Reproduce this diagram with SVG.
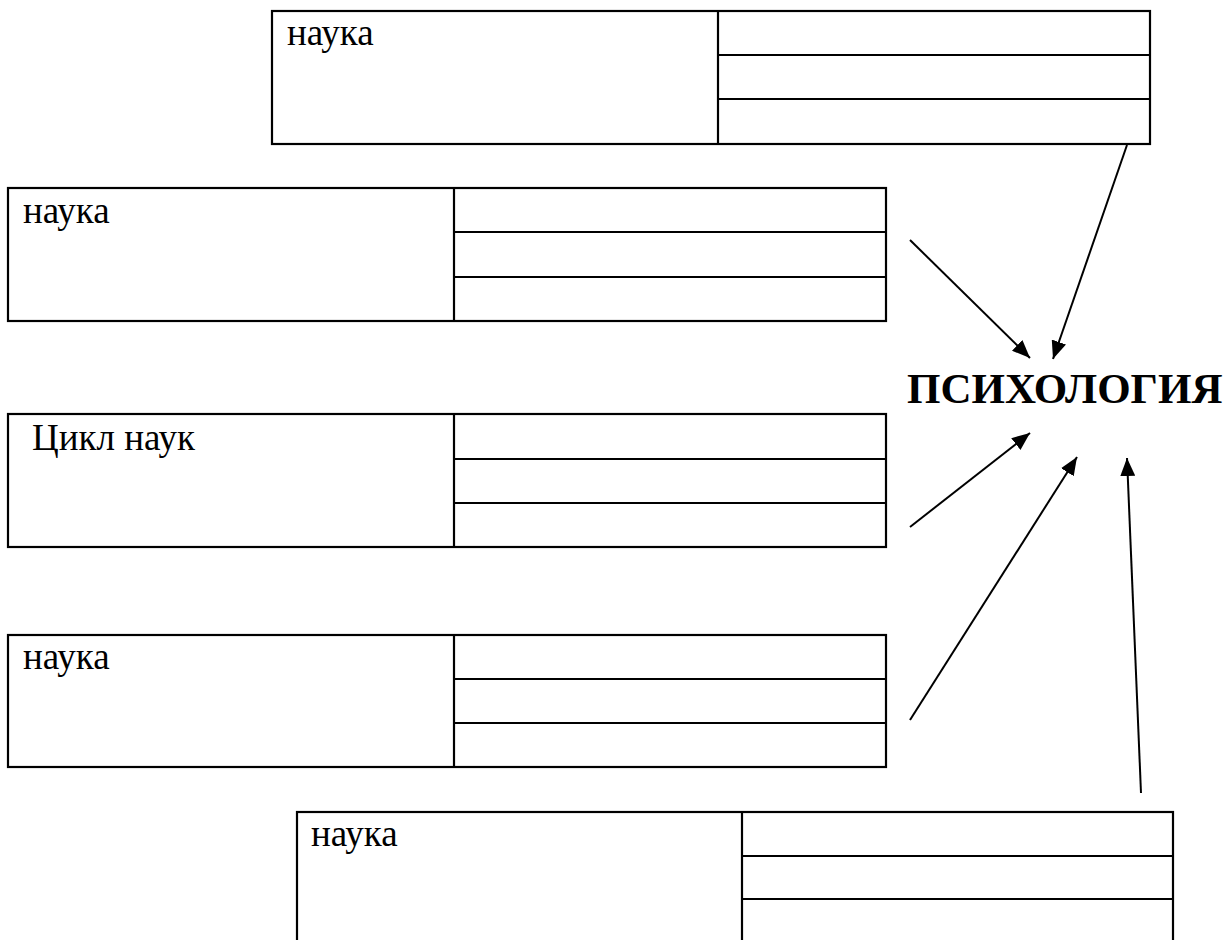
<svg xmlns="http://www.w3.org/2000/svg" width="1231" height="940" viewBox="0 0 1231 940">
  <style>
    .box { fill: #ffffff; stroke: #000000; stroke-width: 2.2; }
    .ln { stroke: #000000; stroke-width: 2.2; fill: none; }
    .lbl { font-family: "Liberation Serif", "Times New Roman", serif; font-size: 37px; fill: #000000; }
    .title { font-family: "Liberation Serif", "Times New Roman", serif; font-size: 43px; font-weight: bold; fill: #000000; }
    .conn { stroke: #000000; stroke-width: 2; fill: none; marker-end: url(#arrow); }
  </style>
  <defs>
    <marker id="arrow" markerUnits="userSpaceOnUse" markerWidth="19" markerHeight="15" refX="18" refY="7.5" orient="auto">
      <path d="M0,0 L18,7.5 L0,15 z" fill="#000000"/>
    </marker>
  </defs>
  <rect width="1231" height="940" fill="#ffffff"/>

  <g id="node-top">
    <rect class="box" x="272" y="11" width="878" height="133"/>
    <line class="ln" x1="718" y1="11" x2="718" y2="144"/>
    <line class="ln" x1="718" y1="55" x2="1150" y2="55"/>
    <line class="ln" x1="718" y1="99" x2="1150" y2="99"/>
    <text class="lbl" x="287" y="45">наука</text>
  </g>

  <g id="node-2">
    <rect class="box" x="8" y="188" width="878" height="133"/>
    <line class="ln" x1="454" y1="188" x2="454" y2="321"/>
    <line class="ln" x1="454" y1="232" x2="886" y2="232"/>
    <line class="ln" x1="454" y1="277" x2="886" y2="277"/>
    <text class="lbl" x="23" y="223">наука</text>
  </g>

  <g id="node-3">
    <rect class="box" x="8" y="414" width="878" height="133"/>
    <line class="ln" x1="454" y1="414" x2="454" y2="547"/>
    <line class="ln" x1="454" y1="459" x2="886" y2="459"/>
    <line class="ln" x1="454" y1="503" x2="886" y2="503"/>
    <text class="lbl" x="32" y="450">Цикл наук</text>
  </g>

  <g id="node-4">
    <rect class="box" x="8" y="635" width="878" height="132"/>
    <line class="ln" x1="454" y1="635" x2="454" y2="767"/>
    <line class="ln" x1="454" y1="679" x2="886" y2="679"/>
    <line class="ln" x1="454" y1="723" x2="886" y2="723"/>
    <text class="lbl" x="23" y="669">наука</text>
  </g>

  <g id="node-bottom">
    <rect class="box" x="297" y="812" width="876" height="145"/>
    <line class="ln" x1="742" y1="812" x2="742" y2="957"/>
    <line class="ln" x1="742" y1="856" x2="1173" y2="856"/>
    <line class="ln" x1="742" y1="899" x2="1173" y2="899"/>
    <text class="lbl" x="311" y="846">наука</text>
  </g>

  <g id="node-psychology">
    <text class="title" x="907" y="403">ПСИХОЛОГИЯ</text>
  </g>

  <g id="connectors">
    <line class="conn" x1="1127" y1="145" x2="1053" y2="359"/>
    <line class="conn" x1="910" y1="240" x2="1030" y2="358"/>
    <line class="conn" x1="910" y1="527" x2="1030" y2="433"/>
    <line class="conn" x1="910" y1="720" x2="1077" y2="457"/>
    <line class="conn" x1="1141" y1="793" x2="1127" y2="458"/>
  </g>
</svg>
